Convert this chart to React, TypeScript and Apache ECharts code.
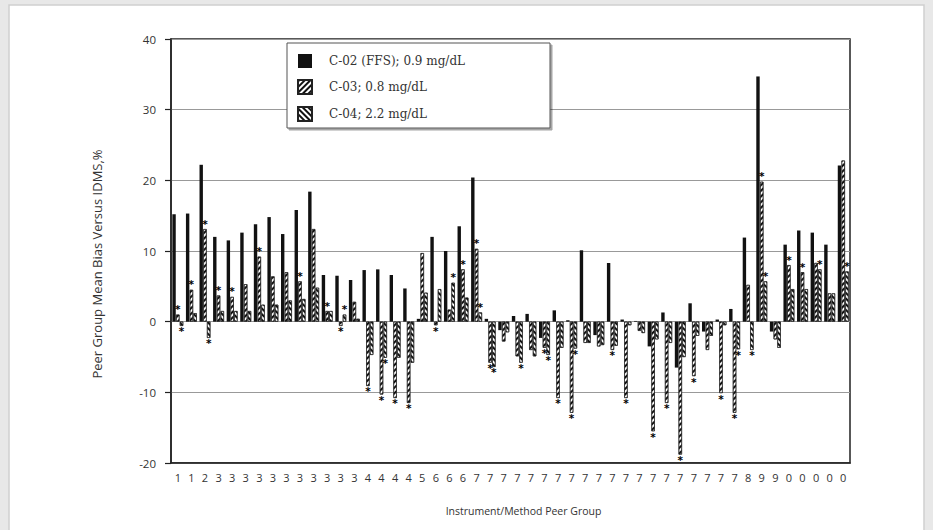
import React, { useEffect, useRef } from "react";
import * as echarts from "echarts";

const groupLabels = [
  "1", "1", "2", "3", "3", "3", "3", "3", "3", "3", "3", "3", "3", "3",
  "4", "4", "4", "4", "5", "6", "6", "6",
  "7", "7", "7", "7", "7", "7", "7", "7", "7", "7", "7", "7", "7", "7", "7", "7", "7", "7", "7", "7",
  "8", "9", "9", "0", "0", "0", "0", "0",
];

const c02 = [
  15.2, 15.3, 22.2, 12.0, 11.5, 12.6, 13.8, 14.8, 12.4, 15.8, 18.4, 6.6, 6.5, 5.9,
  7.3, 7.4, 6.6, 4.7, 0.4, 12.0, 10.0, 13.5,
  20.4, 0.4, -1.2, 0.8, 1.1, -2.3, 1.6, 0.2, 10.1, -1.9, 8.3, 0.3, 0.1, -3.5, 1.3, -6.5, 2.6, -1.4, 0.3, 1.8,
  11.9, 34.7, -1.4, 10.9, 12.9, 12.6, 10.9, 22.1,
];

const c03 = [
  1.0, 4.5, 13.1, 3.7, 3.5, 5.3, 9.2, 6.4, 7.0, 5.7, 13.1, 1.5, -0.6, 2.8,
  -9.1, -10.3, -10.8, -11.5, 9.7, -0.5, 1.7, 7.4,
  10.3, -5.8, -2.8, -4.9, -4.0, -3.7, -10.8, -12.9, -3.0, -3.5, -4.0, -10.8, -1.3, -15.5, -11.5, -18.8, -7.7, -4.0, -10.1, -12.9,
  5.2, 19.8, -2.5, 8.0, 7.0, 8.3, 4.0, 22.8,
];

const c04 = [
  -0.6, 1.2, -2.3, 1.5, 1.5, 1.5, 2.4, 2.4, 3.0, 3.2, 4.8, 1.5, 1.0, 0.4,
  -4.7, -5.1, -5.1, -5.8, 4.1, 4.6, 5.5, 3.4,
  1.3, -6.4, -1.5, -5.8, -4.9, -4.7, -3.7, -3.8, -3.0, -3.3, -3.4, -0.5, -1.6, -2.5, -3.0, -5.0, -2.0, -2.0, -0.5, -3.9,
  -4.0, 5.7, -3.7, 4.6, 4.6, 7.4, 4.0, 7.1,
];

// 1 = bar flagged with an asterisk at its end
const c03Flag = [
  1, 1, 1, 1, 1, 0, 1, 0, 0, 1, 0, 1, 1, 0,
  1, 1, 1, 1, 0, 1, 0, 1,
  1, 1, 0, 0, 0, 1, 1, 1, 0, 0, 1, 1, 0, 1, 1, 1, 1, 0, 1, 1,
  0, 1, 0, 1, 1, 0, 0, 0,
];

const c04Flag = [
  1, 0, 1, 0, 0, 0, 0, 0, 0, 0, 0, 0, 1, 0,
  0, 1, 0, 0, 0, 0, 1, 0,
  1, 1, 0, 1, 0, 1, 0, 1, 0, 0, 0, 0, 0, 0, 0, 0, 0, 0, 0, 1,
  1, 1, 0, 0, 0, 1, 0, 1,
];

const seriesNames = ["C-02 (FFS); 0.9 mg/dL", "C-03; 0.8 mg/dL", "C-04; 2.2 mg/dL"];

const SANS = "'Open Sans', 'DejaVu Sans', sans-serif";
const SERIF = "'DejaVu Serif', 'Liberation Serif', serif";

export default function App() {
  const ref = useRef<HTMLDivElement>(null);

  useEffect(() => {
    const chart = echarts.init(ref.current as HTMLDivElement, null, { renderer: "svg" });
    const hatch = (rot: number) => ({
      symbol: "rect",
      symbolSize: 1,
      color: "#111",
      backgroundColor: "#fff",
      dashArrayX: [1, 0],
      dashArrayY: [1.4, 1.4],
      rotation: rot,
    });
    const starLabel = {
      position: "outside",
      formatter: "*",
      fontSize: 10.5,
      fontWeight: "bold",
      fontFamily: "'DejaVu Sans', sans-serif",
      color: "#000",
      distance: 0,
    };
    const flagged = (vals: number[], flags: number[]) =>
      vals.map((v, i) => ({ value: v, label: { show: flags[i] === 1 } }));

    chart.setOption({
      animation: false,
      backgroundColor: "transparent",
      graphic: [
        {
          type: "rect",
          z: -10,
          silent: true,
          shape: { x: 9, y: 5, width: 915, height: 530 },
          style: { fill: "#fff", stroke: "#cfcfcf", lineWidth: 1.5 },
        },
        {
          type: "rect",
          z: 3,
          silent: true,
          shape: { x: 287, y: 43, width: 263, height: 85 },
          style: {
            fill: "#fff",
            stroke: "#555",
            lineWidth: 1,
            shadowColor: "rgba(0,0,0,0.35)",
            shadowOffsetX: 2,
            shadowOffsetY: 2,
            shadowBlur: 0,
          },
        },
      ],
      legend: {
        orient: "vertical",
        left: 292,
        top: 49,
        itemWidth: 14,
        itemHeight: 14,
        itemGap: 11,
        icon: "rect",
        data: seriesNames,
        textStyle: { fontFamily: SERIF, fontSize: 12, color: "#333", padding: [0, 0, 0, 12] },
        z: 5,
      },
      grid: {
        left: 171,
        right: 83,
        top: 39,
        bottom: 67,
        show: true,
        borderColor: "#222",
        borderWidth: 1.5,
        backgroundColor: "transparent",
      },
      xAxis: {
        type: "category",
        data: groupLabels.map((_, i) => String(i)),
        name: "Instrument/Method Peer Group",
        nameLocation: "middle",
        nameGap: 42,
        nameTextStyle: { fontFamily: SANS, fontSize: 10.5, color: "#333", padding: [0, 0, 0, 26] },
        axisLine: { onZero: false, lineStyle: { color: "#222", width: 1.5 } },
        axisTick: { show: false },
        axisLabel: {
          interval: 0,
          formatter: (_v: string, i: number) => groupLabels[i],
          fontFamily: SANS,
          fontSize: 11,
          color: "#333",
          margin: 9,
        },
        splitLine: { show: false },
      },
      yAxis: {
        type: "value",
        min: -20,
        max: 40,
        interval: 10,
        name: "Peer Group Mean Bias Versus IDMS,%",
        nameLocation: "middle",
        nameGap: 68,
        nameTextStyle: { fontFamily: SANS, fontSize: 13, color: "#333", padding: [0, 26, 0, 0] },
        axisLine: { show: true, lineStyle: { color: "#222", width: 1.5 } },
        axisTick: { show: true, length: 6, lineStyle: { color: "#222", width: 1.2 } },
        axisLabel: { fontFamily: SANS, fontSize: 11.5, color: "#333", margin: 15 },
        splitLine: { show: true, lineStyle: { color: "#999", width: 1 } },
      },
      series: [
        {
          name: seriesNames[0],
          type: "bar",
          data: c02,
          barWidth: 3.4,
          barGap: "10%",
          itemStyle: { color: "#111" },
        },
        {
          name: seriesNames[1],
          type: "bar",
          data: flagged(c03, c03Flag),
          barWidth: 3.4,
          barGap: "10%",
          label: starLabel,
          itemStyle: { color: "#fff", borderColor: "#222", borderWidth: 0.6, decal: hatch(-Math.PI / 4) },
        },
        {
          name: seriesNames[2],
          type: "bar",
          data: flagged(c04, c04Flag),
          barWidth: 3.4,
          barGap: "10%",
          label: starLabel,
          itemStyle: { color: "#fff", borderColor: "#222", borderWidth: 0.6, decal: hatch(Math.PI / 4) },
        },
      ],
    });
    return () => chart.dispose();
  }, []);

  return (
    <div style={{ position: "fixed", left: 0, top: 0, width: 933, height: 530, background: "#e8e8e8" }}>
      <div ref={ref} style={{ width: 933, height: 530 }} />
    </div>
  );
}
